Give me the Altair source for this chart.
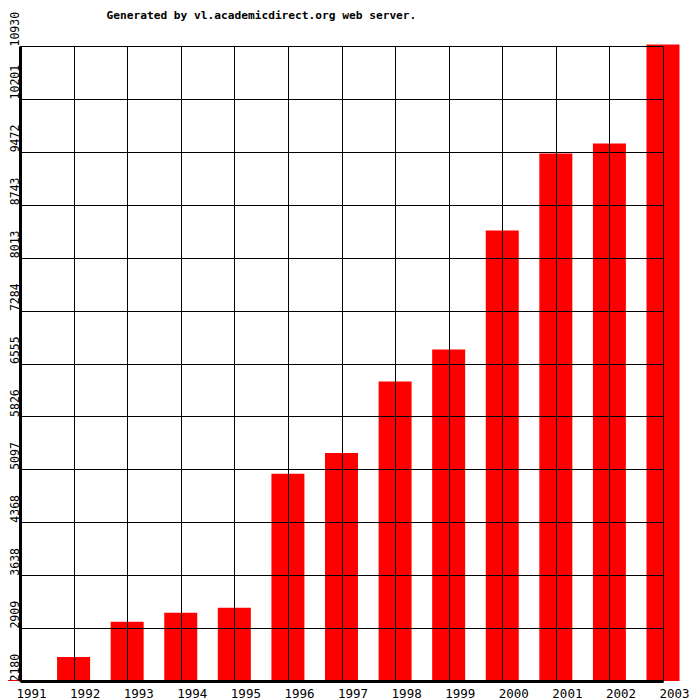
import altair as alt
import pandas as pd

years = [1991, 1992, 1993, 1994, 1995, 1996, 1997, 1998, 1999, 2000, 2001, 2002, 2003]
values = [2195, 2512, 2996, 3121, 3190, 5036, 5323, 6306, 6749, 8387, 9448, 9587, 10950]
y_ticks = [2180, 2909, 3638, 4368, 5097, 5826, 6555, 7284, 8013, 8743, 9472, 10201, 10930]
baseline_value = 2180
title_text = "Generated by vl.academicdirect.org web server."

df = pd.DataFrame({"year": years, "value": values})

MONO = "DejaVu Sans Mono"

chart = alt.Chart(df).mark_bar(size=33, color="#ff0000").encode(
    x=alt.X(
        "year:Q",
        scale=alt.Scale(domain=[1991, 2003], nice=False, zero=False, padding=0),
        axis=alt.Axis(
            values=years, format="d", title=None, grid=True, gridColor="black",
            gridOpacity=1, gridWidth=1, domainColor="black", domainWidth=3,
            ticks=False, labelAlign="left", labelAngle=0, labelBaseline="top",
            labelPadding=6, labelOffset=-4, labelFont=MONO, labelFontSize=12.5,
            labelColor="black", labelFlush=False, labelOverlap=False,
            labelBound=False, zindex=1,
        ),
    ),
    y=alt.Y(
        "value:Q",
        scale=alt.Scale(domain=[2180, 10930], nice=False, zero=False, padding=0),
        axis=alt.Axis(
            values=y_ticks, format="d", title=None, grid=True, gridColor="black",
            gridOpacity=1, gridWidth=1, domainColor="black", domainWidth=3,
            ticks=False, labelAngle=270, labelAlign="left", labelBaseline="alphabetic",
            labelPadding=2, labelFont=MONO, labelFontSize=11.5, labelColor="black",
            labelFlush=False, labelOverlap=False, labelBound=False, zindex=1,
        ),
    ),
    y2=alt.Y2(datum=baseline_value),
).properties(
    width=643,
    height=635,
    title=alt.TitleParams(
        title_text, font=MONO, fontSize=11.2, fontWeight="bold", color="black",
        anchor="start", dx=103, offset=0, dy=10,
    ),
    autosize=alt.AutoSizeParams(type="none"),
    padding={"left": 12, "top": 38, "right": 29, "bottom": 19},
).configure_view(strokeWidth=0).configure(background="white")

chart.save("out.html", embed_options={"renderer": "svg", "actions": False})
